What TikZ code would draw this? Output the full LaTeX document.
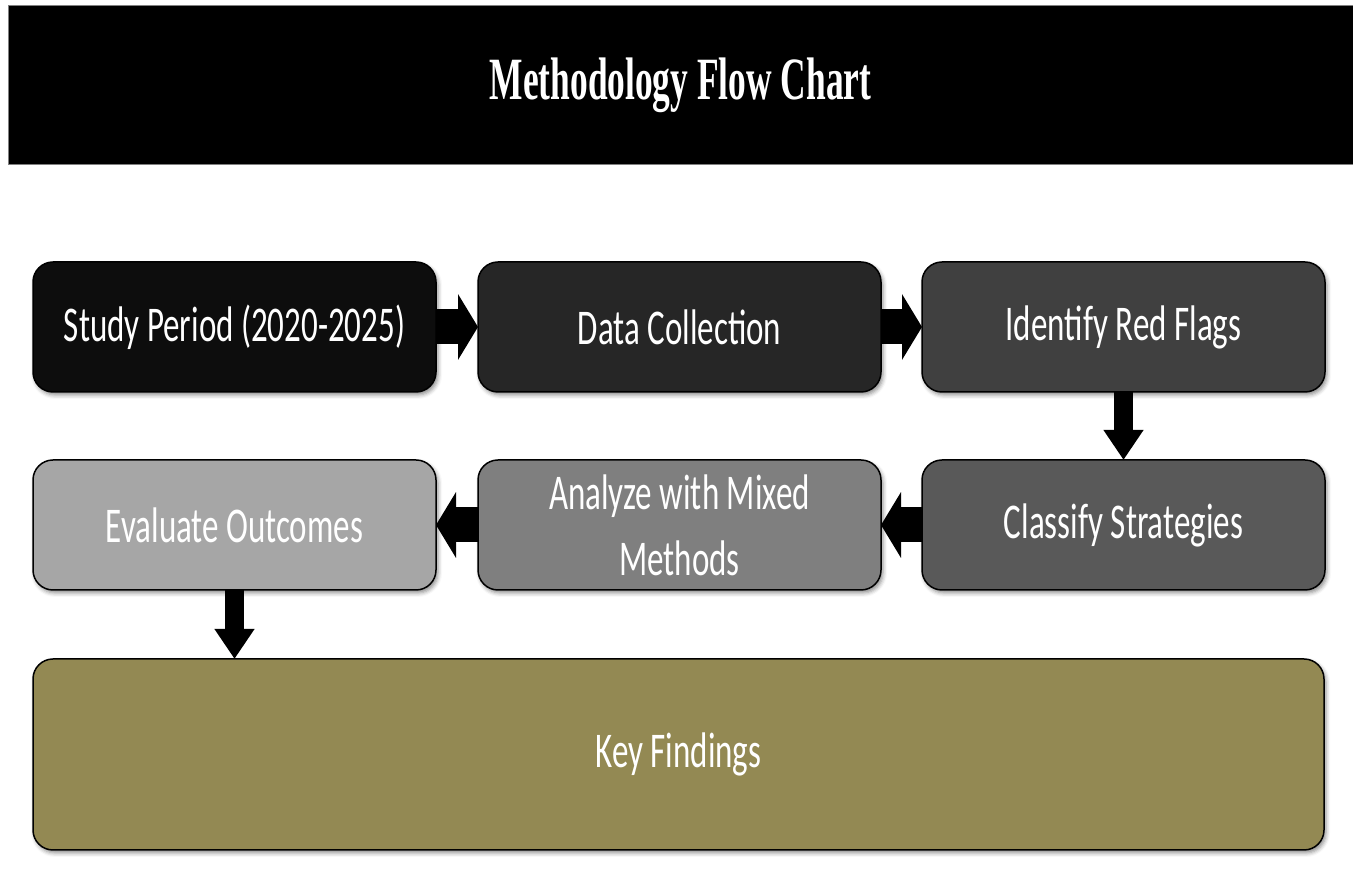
\documentclass[tikz,border=0pt]{standalone}
\usepackage{fontspec}
\usepackage{xcolor}
\usepackage{tikz}
\usetikzlibrary{positioning, arrows.meta, shadows.blur}

\newfontfamily\titlefont[FakeStretch=0.59]{Liberation Serif}
\newfontfamily\boxfont[FakeStretch=0.66]{Carlito}

\definecolor{shadeA}{HTML}{0D0D0D}
\definecolor{shadeB}{HTML}{262626}
\definecolor{shadeC}{HTML}{404040}
\definecolor{shadeD}{HTML}{595959}
\definecolor{shadeE}{HTML}{7F7F7F}
\definecolor{shadeF}{HTML}{A6A6A6}
\definecolor{olive}{HTML}{938953}

\tikzset{
    stepbox/.style={draw=black, line width=1.5pt, rounded corners=20pt, outer sep=0pt,
        minimum width=403pt, minimum height=130pt, text=white, align=center,
        font=\boxfont\fontsize{50}{66}\selectfont,
        blur shadow={shadow xshift=2pt, shadow yshift=-3pt, shadow blur radius=4pt, shadow opacity=45}},
    harrow/.style={draw=black, line width=35pt, -{Triangle[width=65pt, length=20pt]}},
    varrow/.style={draw=black, line width=19pt, -{Triangle[width=38pt, length=30pt]}}
}

\begin{document}
\begin{tikzpicture}[x=1pt, y=1pt]

        \useasboundingbox (0,0) rectangle (1353,874);

        % heading band
        \node[fill=black, draw=gray, line width=1pt, minimum width=1345pt, minimum height=159pt,
              text=white, font=\titlefont\bfseries\fontsize{60}{66}\selectfont] (title) at (680.5,788.5)
              {Methodology Flow Chart};

        % top row, left to right
        \node[stepbox, fill=shadeA] (period) at (234.5,547) {Study Period (2020-2025)};
        \node[stepbox, fill=shadeB, right=42pt of period] (data) {Data Collection};
        \node[stepbox, fill=shadeC, right=41pt of data] (flags) {Identify Red Flags};

        % second row, right to left
        \node[stepbox, fill=shadeD, below=68pt of flags] (classify) {Classify Strategies};
        \node[stepbox, fill=shadeE, left=41pt of classify] (analyze) {Analyze with Mixed\\Methods};
        \node[stepbox, fill=shadeF, left=42pt of analyze] (evaluate) {Evaluate Outcomes};

        \node[stepbox, fill=olive, minimum width=1291pt, minimum height=191pt,
              below=69pt of evaluate.south west, anchor=north west] (findings) {Key Findings};

        \path[harrow]
        (period) edge (data)
        (data) edge (flags)
        (classify) edge (analyze)
        (analyze) edge (evaluate);

        \path[varrow]
        (flags) edge (classify)
        (evaluate) edge (evaluate.south |- findings.north);

\end{tikzpicture}
\end{document}
